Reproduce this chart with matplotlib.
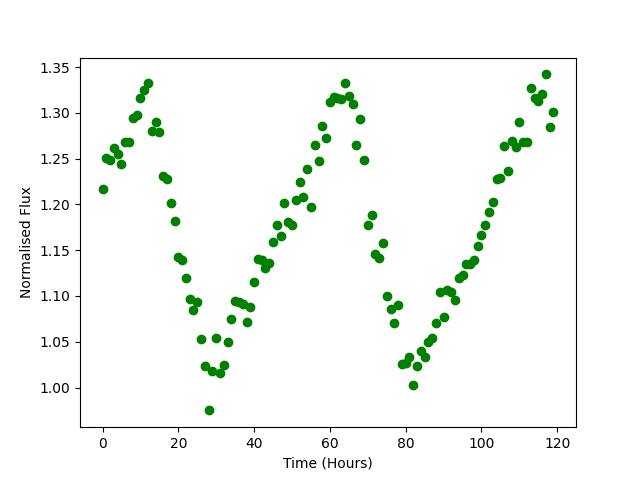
import matplotlib
matplotlib.use("Agg")
import matplotlib.pyplot as plt
import numpy as np

hours = np.arange(120)
flux = [
    1.217, 1.251, 1.249, 1.262, 1.255, 1.244, 1.268, 1.268, 1.294, 1.298,
    1.316, 1.325, 1.333, 1.280, 1.290, 1.279, 1.231, 1.228, 1.202, 1.182,
    1.143, 1.139, 1.120, 1.097, 1.085, 1.093, 1.053, 1.023, 0.975, 1.018,
    1.054, 1.016, 1.025, 1.050, 1.075, 1.094, 1.093, 1.091, 1.072, 1.088,
    1.115, 1.140, 1.139, 1.130, 1.136, 1.159, 1.178, 1.165, 1.202, 1.181,
    1.178, 1.205, 1.224, 1.208, 1.239, 1.197, 1.265, 1.247, 1.286, 1.272,
    1.312, 1.317, 1.316, 1.315, 1.333, 1.318, 1.310, 1.265, 1.293, 1.249,
    1.177, 1.188, 1.146, 1.141, 1.158, 1.100, 1.086, 1.071, 1.090, 1.026,
    1.027, 1.033, 1.003, 1.023, 1.040, 1.033, 1.050, 1.054, 1.070, 1.104,
    1.077, 1.106, 1.104, 1.096, 1.120, 1.123, 1.135, 1.135, 1.139, 1.155,
    1.167, 1.178, 1.192, 1.203, 1.228, 1.229, 1.264, 1.236, 1.269, 1.2625,
    1.2895, 1.268, 1.268, 1.327, 1.316, 1.3125, 1.3205, 1.342, 1.285, 1.3005,
]

fig, ax = plt.subplots(figsize=(6.4, 4.8), dpi=100)
ax.plot(hours, flux, 'go')
ax.set_xlabel("Time (Hours)")
ax.set_ylabel("Normalised Flux")
fig.savefig("out.png")
